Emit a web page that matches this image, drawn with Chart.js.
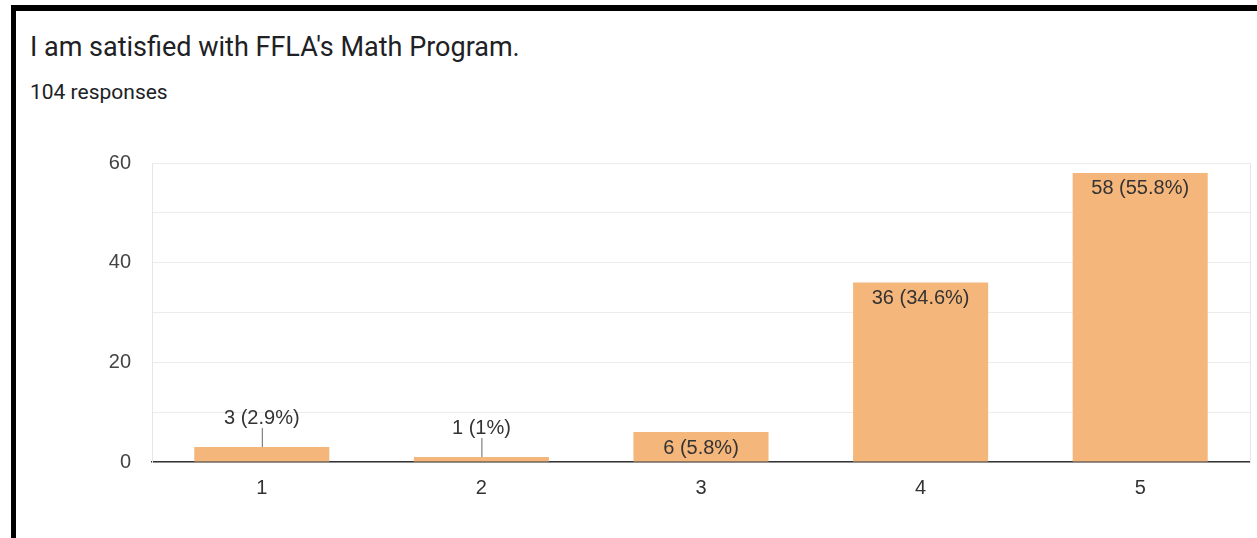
<!DOCTYPE html>
<html>
<head>
<meta charset="utf-8">
<script src="https://cdn.jsdelivr.net/npm/chart.js@4.4.0/dist/chart.umd.min.js"></script>
<style>
    body { margin: 0; background: #ffffff; }
    #page { position: relative; width: 1257px; height: 538px; overflow: hidden; }
    #frame { position: absolute; left: 11px; top: 5px; right: 0; bottom: 0; border-top: 6px solid #000; border-left: 5px solid #000; }
    #title { position: absolute; left: 30px; top: 31px; font-family: Roboto, sans-serif; font-size: 27px; color: #202124; white-space: nowrap; }
    #subtitle { position: absolute; left: 30px; top: 80px; font-family: Roboto, sans-serif; font-size: 21px; color: #202124; white-space: nowrap; }
    #holder { position: absolute; left: 0; top: 0; width: 1257px; height: 538px; }
</style>
</head>
<body>
<div id="page">
    <div id="frame"></div>
    <div id="title">I am satisfied with FFLA's Math Program.</div>
    <div id="subtitle">104 responses</div>
    <div id="holder"><canvas id="myChart"></canvas></div>
</div>
<script>
let categories = ["1", "2", "3", "4", "5"];
let counts = [3, 1, 6, 36, 58];
let percents = ["2.9%", "1%", "5.8%", "34.6%", "55.8%"];
let yTicks = [0, 20, 40, 60];

// labels like "58 (55.8%)": inside the bar when it is tall enough, else above with a short leader line
let barLabels = {
    id: "barLabels",
    afterDatasetsDraw(chart) {
        let ctx = chart.ctx;
        let meta = chart.getDatasetMeta(0);
        ctx.save();
        ctx.font = "20px 'Liberation Sans', Arial, sans-serif";
        ctx.textAlign = "center";
        ctx.textBaseline = "middle";
        meta.data.forEach(function (bar, i) {
            let text = counts[i] + " (" + percents[i] + ")";
            let h = bar.base - bar.y;
            ctx.fillStyle = "#333333";
            if (h >= 25) {
                ctx.fillText(text, bar.x, bar.y + 16);
            } else {
                ctx.fillText(text, bar.x, bar.y - 29);
                ctx.strokeStyle = "#666666";
                ctx.lineWidth = 1;
                ctx.beginPath();
                ctx.moveTo(bar.x + 0.5, bar.y - 19);
                ctx.lineTo(bar.x + 0.5, bar.y);
                ctx.stroke();
            }
        });
        ctx.restore();
    }
};

let myChart = document.getElementById("myChart").getContext("2d");
let formsChart = new Chart(myChart, {
    type: "bar",
    data: {
        labels: categories,
        datasets: [{
            data: counts,
            backgroundColor: "#f4b67b",
            borderWidth: 0,
            categoryPercentage: 1,
            barPercentage: 0.615
        }]
    },
    options: {
        responsive: true,
        maintainAspectRatio: false,
        animation: false,
        layout: { padding: { left: 0, top: 163, right: 7, bottom: 36 } },
        plugins: {
            legend: { display: false },
            tooltip: { enabled: false }
        },
        scales: {
            x: {
                grid: { display: false, drawTicks: false },
                border: { display: true, color: "#333333", width: 1.5 },
                ticks: {
                    padding: 14,
                    color: "#333333",
                    font: { family: "'Liberation Sans', Arial, sans-serif", size: 20 }
                },
                afterFit(scale) { scale.height = 40; }
            },
            y: {
                min: 0,
                max: 60,
                ticks: {
                    stepSize: 10,
                    padding: 21,
                    color: "#444444",
                    font: { family: "'Liberation Sans', Arial, sans-serif", size: 20 },
                    callback: function (v) { return yTicks.includes(v) ? String(v) : ""; }
                },
                grid: { color: "#ececec", drawTicks: false },
                border: { display: true, color: "#e6e6e6" },
                afterFit(scale) { scale.width = 152; }
            },
            y2: {
                position: "right",
                min: 0,
                max: 60,
                ticks: { display: false },
                grid: { drawOnChartArea: false, drawTicks: false },
                border: { display: true, color: "#e6e6e6" },
                afterFit(scale) { scale.width = 0; }
            }
        }
    },
    plugins: [barLabels]
});
</script>
</body>
</html>
